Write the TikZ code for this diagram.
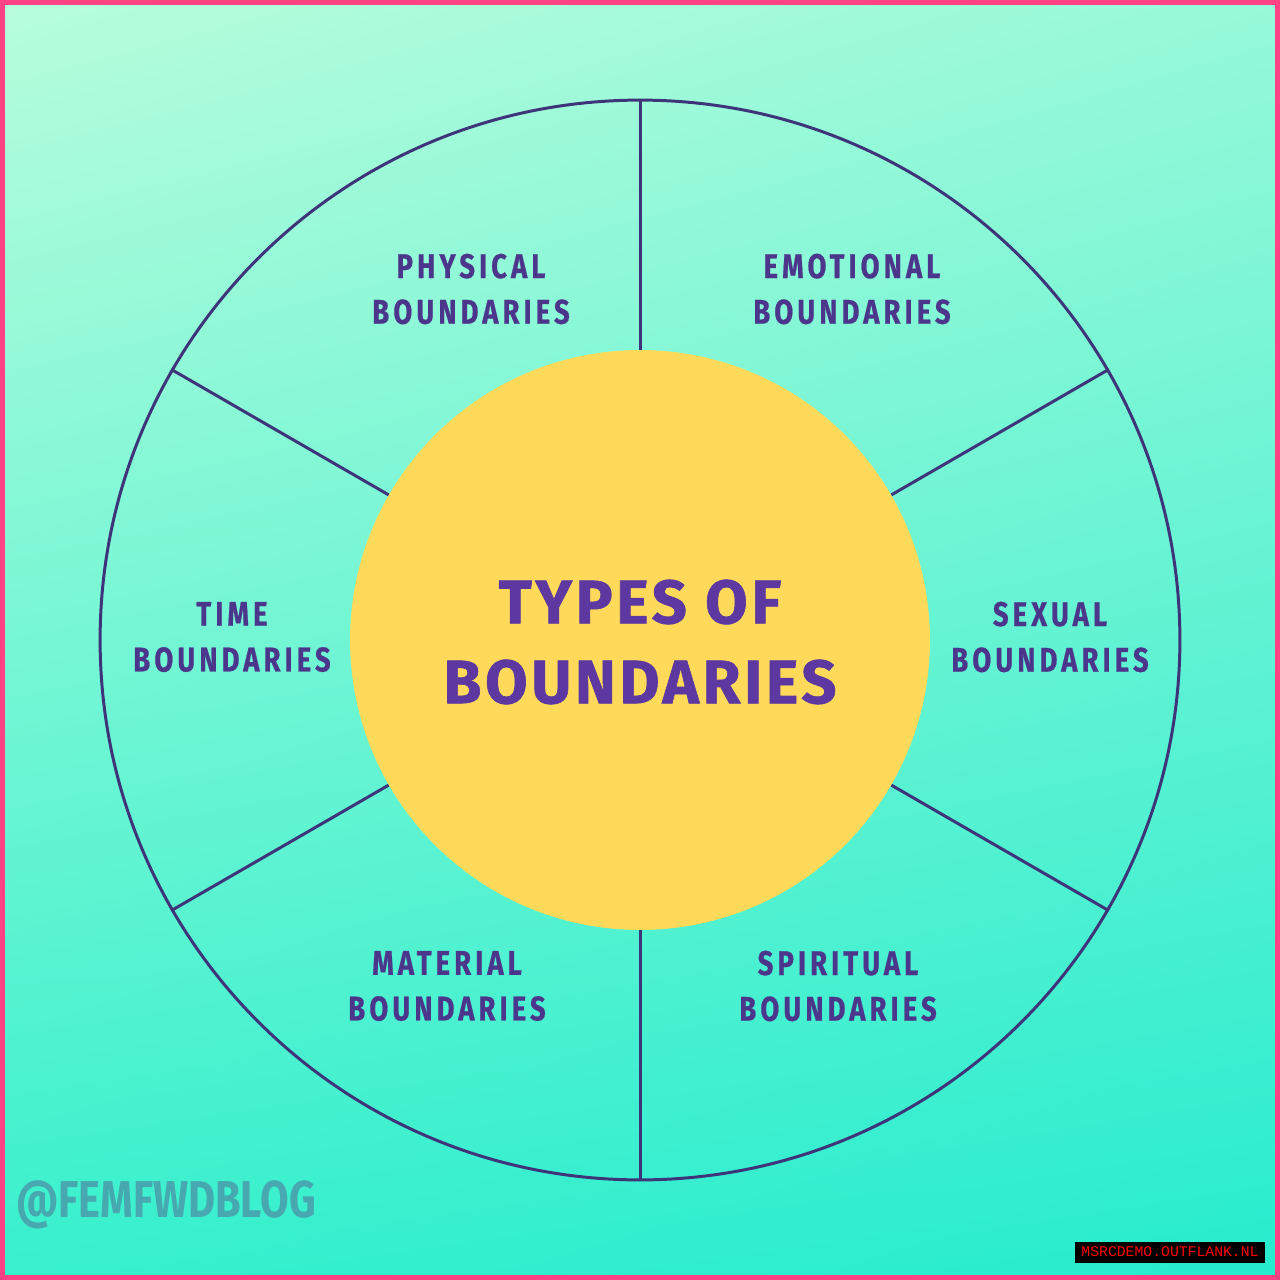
\documentclass[tikz,border=0pt]{standalone}
\usepackage{fontspec}
\usetikzlibrary{shadings}
\newfontfamily\labelfont[FakeStretch=0.8, LetterSpace=12, FakeBold=0.6]{Fira Sans}
\newfontfamily\handlefont[FakeStretch=0.8]{Fira Sans}
\newfontfamily\hubfont[LetterSpace=6, FakeBold=1]{Fira Sans}
\newfontfamily\tagfont{Liberation Mono}
\definecolor{bgtl}{RGB}{184,253,220}
\definecolor{bgtr}{RGB}{150,249,216}
\definecolor{bgbl}{RGB}{55,240,205}
\definecolor{bgbr}{RGB}{38,236,206}
\definecolor{frame}{RGB}{255,66,132}
\definecolor{ring}{RGB}{62,52,122}
\definecolor{ink}{RGB}{76,54,140}
\definecolor{hubink}{RGB}{92,56,160}
\definecolor{hubfill}{RGB}{255,218,90}
\definecolor{mark}{RGB}{72,168,176}
\tikzset{
  lbl/.style={font=\labelfont\bfseries\fontsize{19.5}{26}\selectfont, text=ink, align=center},
  hubtxt/.style={font=\hubfont\bfseries\fontsize{35}{45.5}\selectfont, text=hubink, align=center}
}
\begin{document}
\begin{tikzpicture}[x=0.02cm, y=-0.02cm, every node/.style={inner sep=0pt}]
  \useasboundingbox (0,0) rectangle (1280,1280);
  % Background and frame
  \shade[upper left=bgtl, upper right=bgtr, lower left=bgbl, lower right=bgbr] (0,0) rectangle (1280,1280);
  \draw[line width=0.1cm, draw=frame] (2.5,2.5) rectangle (1277.5,1277.5);
  % Wheel
  \node[circle, draw=ring, line width=1.7pt, minimum size=21.6cm] (rim) at (640,640) {};
  \node[circle, fill=hubfill, minimum size=11.6cm] (hub) at (640,640) {};
  % Spokes
  \foreach \a in {90,30,-30,-90,-150,150} {
    \draw[ring, line width=1.7pt] (hub.\a) -- (rim.\a);
  }
  % Segment labels
  \node[lbl] (physical) at (471,289) {PHYSICAL\\BOUNDARIES};
  \node[lbl] (emotional) at (852,289) {EMOTIONAL\\BOUNDARIES};
  \node[lbl] (time) at (232,637) {TIME\\BOUNDARIES};
  \node[lbl] (sexual) at (1050,637) {SEXUAL\\BOUNDARIES};
  \node[lbl] (material) at (447,986) {MATERIAL\\BOUNDARIES};
  \node[lbl] (spiritual) at (838,986) {SPIRITUAL\\BOUNDARIES};
  % Title in the hub
  \node[hubtxt] (title) at (640,642) {TYPES OF\\BOUNDARIES};
  % Handle and tag
  \node[font=\handlefont\bfseries\fontsize{29.5}{30}\selectfont, text=mark] (handle) at (166,1205) {@FEMFWDBLOG};
  \node[fill=black, text=red, font=\tagfont\fontsize{8.4}{9}\selectfont, minimum width=3.8cm, minimum height=0.42cm] (tag) at (1170,1252) {MSRCDEMO.OUTFLANK.NL};
\end{tikzpicture}
\end{document}
